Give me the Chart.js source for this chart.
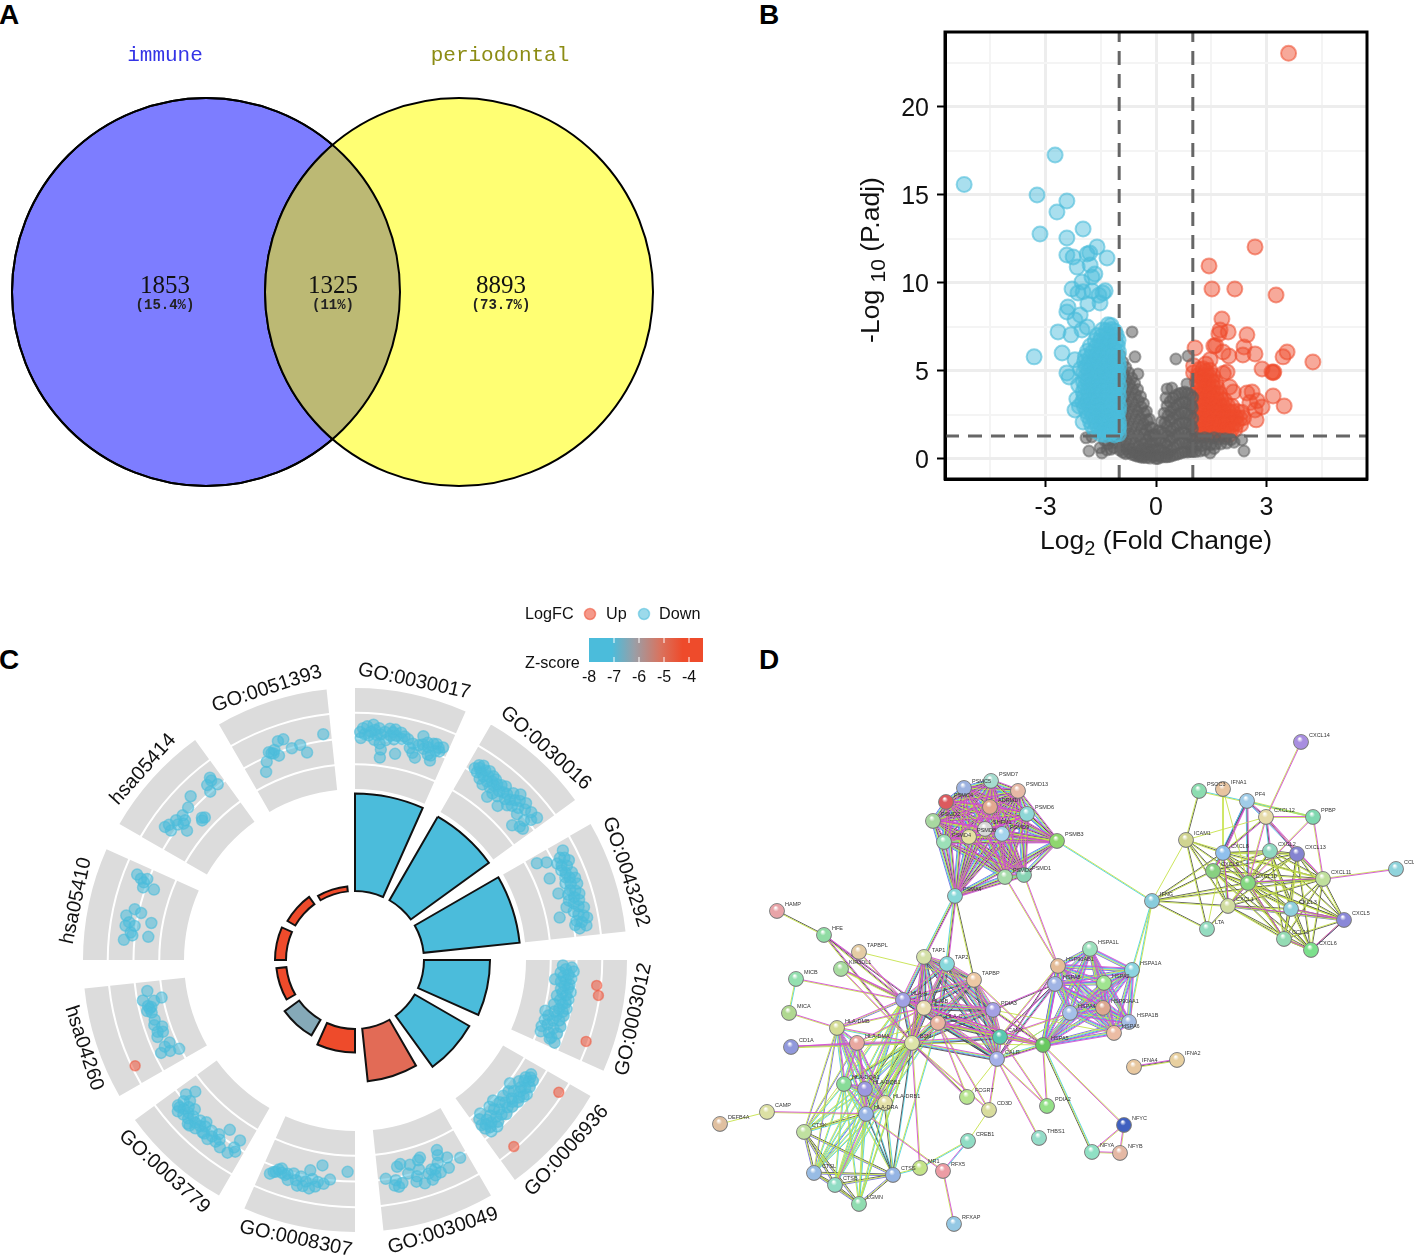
<!DOCTYPE html>
<html>
<head>
<meta charset="utf-8">
<title>Immune and periodontal genes</title>
<script src="https://cdn.jsdelivr.net/npm/chart.js@4"></script>
<style>
  body { margin: 0; background: #fff; }
  #page { position: relative; width: 1414px; height: 1256px; overflow: hidden; }
  canvas { position: absolute; }
  .panel { position: absolute; font: bold 28px "Liberation Sans", Arial, sans-serif; color: #000; }
</style>
</head>
<body>
<div id="page">
  <div class="panel" style="left:-1px;top:-1px">A</div>
  <div class="panel" style="left:759px;top:-1px">B</div>
  <div class="panel" style="left:-1px;top:644px">C</div>
  <div class="panel" style="left:759px;top:644px">D</div>
</div>
<script>
// ---- Panel A: venn ----
const vennNames = ['immune', 'periodontal'];
const vennCounts = ['1853', '1325', '8893'];
const vennShares = ['(15.4%)', '(11%)', '(73.7%)'];

// ---- Panel B: volcano, [log2FC, -log10 p.adj] ----
const volcanoXTicks = [-4.5, -3, -1.5, 0, 1.5, 3, 4.5];
const volcanoXLabels = [-3, 0, 3];
const volcanoYTicks = [0, 2.5, 5, 7.5, 10, 12.5, 15, 17.5, 20, 22.5];
const volcanoYLabels = [0, 5, 10, 15, 20];
const foldCutoff = 1;
const pCutoff = 1.3;

const downGenes = [
  [-5.21,15.6],[-2.74,17.27],[-3.23,15],[-2.42,14.66],[-2.69,14.03],[-1.98,13.07],[-3.15,12.78],[-2.42,12.56],
  [-1.6,12.05],[-2.42,11.59],[-2.25,11.48],[-1.87,11.65],[-1.8,11.7],[-1.33,11.42],[-2.14,10.9],[-1.79,11.02],
  [-1.66,10.51],[-1.74,10.34],[-2.01,10.06],[-2.28,9.66],[-2.12,9.43],[-1.98,9.5],[-1.74,9.55],[-1.38,9.55],
  [-1.44,9.43],[-1.55,9.3],[-1.85,8.81],[-1.52,8.86],[-2.39,8.64],[-2.42,8.35],[-2.06,8.18],[-2.2,7.9],
  [-2.66,7.22],[-2.31,7.05],[-2.01,7.33],[-1.87,7.5],[-3.31,5.8],[-2.55,6.02],[-2.2,5.63],[-2.42,4.89],
  [-2.36,4.66],[-2.1,4.2],[-2.2,2.78],[-1.98,2.1],[-2.15,3.4],[-2.05,5.1],[-2.08,3.0],
  [-1.3,7.62],[-1.22,7.58],[-1.45,7.33],[-1.35,7.28],[-1.2,7.36],[-1.12,7.25],
  [-1.6,7.02],[-1.48,6.97],[-1.33,7.05],[-1.21,6.98],[-1.08,7.04],
  [-1.65,6.72],[-1.52,6.67],[-1.4,6.75],[-1.25,6.7],[-1.1,6.66],[-1.03,6.74],
  [-1.78,6.42],[-1.62,6.37],[-1.47,6.45],[-1.33,6.4],[-1.18,6.36],[-1.05,6.44],
  [-1.86,6.12],[-1.72,6.07],[-1.55,6.15],[-1.4,6.1],[-1.28,6.06],[-1.12,6.14],[-1.02,6.08],
  [-1.92,5.82],[-1.78,5.77],[-1.63,5.85],[-1.5,5.8],[-1.35,5.76],[-1.2,5.84],[-1.06,5.79],
  [-1.94,5.52],[-1.81,5.47],[-1.67,5.55],[-1.53,5.5],[-1.4,5.46],[-1.27,5.54],[-1.14,5.49],[-1.03,5.52],
  [-1.9,5.22],[-1.76,5.27],[-1.62,5.18],[-1.48,5.25],[-1.34,5.2],[-1.21,5.28],[-1.09,5.19],[-1.01,5.25],
  [-1.96,4.94],[-1.83,4.99],[-1.69,4.9],[-1.55,4.97],[-1.42,4.92],[-1.29,5],[-1.15,4.91],[-1.04,4.97],
  [-1.92,4.66],[-1.78,4.71],[-1.64,4.62],[-1.5,4.69],[-1.37,4.64],[-1.24,4.72],[-1.11,4.63],[-1.02,4.69],
  [-1.97,4.38],[-1.85,4.43],[-1.7,4.34],[-1.56,4.41],[-1.43,4.36],[-1.3,4.44],[-1.16,4.35],[-1.05,4.41],
  [-1.93,4.1],[-1.8,4.15],[-1.66,4.06],[-1.52,4.13],[-1.38,4.08],[-1.25,4.16],[-1.12,4.07],[-1.01,4.13],
  [-1.98,3.82],[-1.84,3.87],[-1.71,3.78],[-1.57,3.85],[-1.44,3.8],[-1.31,3.88],[-1.17,3.79],[-1.04,3.85],
  [-1.95,3.54],[-1.81,3.59],[-1.67,3.5],[-1.53,3.57],[-1.39,3.52],[-1.26,3.6],[-1.13,3.51],[-1.02,3.57],
  [-1.99,3.26],[-1.86,3.31],[-1.72,3.22],[-1.58,3.29],[-1.45,3.24],[-1.32,3.32],[-1.18,3.23],[-1.05,3.29],
  [-1.94,2.98],[-1.8,3.03],[-1.66,2.94],[-1.52,3.01],[-1.39,2.96],[-1.26,3.04],[-1.12,2.95],[-1.01,3.01],
  [-1.88,2.7],[-1.75,2.75],[-1.61,2.66],[-1.48,2.73],[-1.34,2.68],[-1.21,2.76],[-1.08,2.67],[-1.02,2.73],
  [-1.84,2.42],[-1.71,2.47],[-1.58,2.38],[-1.44,2.45],[-1.31,2.4],[-1.18,2.48],[-1.05,2.39],
  [-1.78,2.14],[-1.65,2.19],[-1.52,2.1],[-1.39,2.17],[-1.26,2.12],[-1.13,2.2],[-1.02,2.11],
  [-1.74,1.88],[-1.6,1.93],[-1.47,1.84],[-1.34,1.91],[-1.21,1.86],[-1.09,1.94],[-1.01,1.85],
  [-1.66,1.62],[-1.53,1.67],[-1.4,1.58],[-1.27,1.65],[-1.15,1.6],[-1.03,1.68],
  [-1.5,1.42],[-1.38,1.38],[-1.25,1.44],[-1.12,1.36],[-1.02,1.42]
];

const upGenes = [
  [3.6,23.05],[2.69,12.05],[1.44,10.97],[1.52,9.66],[2.14,9.66],[3.26,9.32],[1.79,7.95],[1.74,7.33],
  [1.96,7.22],[1.71,7.1],[2.47,7.05],[2.39,6.36],[1.06,6.31],[1.57,6.42],[1.62,6.45],[1.82,6.08],[1.98,5.85],
  [2.36,5.91],[2.69,5.97],[3.56,6.08],[3.45,5.8],[4.26,5.51],[1.47,5.63],[1.35,5.4],[2.88,5.11],[3.15,4.94],
  [3.2,4.94],[3.18,4.9],[1.93,4.94],[1.83,4.85],[1.02,5.3],[1.02,4.9],[2,4.09],[2.1,3.8],[2.47,3.75],[2.61,3.8],
  [3.18,3.58],[3.48,3.01],[2.88,2.95],[2.69,2.78],[2.72,2.22],[2.55,3.2],[2.75,3.3],
  [1.18,5.08],[1.28,5.12],[1.36,4.98],[1.46,5.04],
  [1.14,4.72],[1.24,4.66],[1.34,4.75],[1.44,4.69],[1.54,4.74],
  [1.12,4.38],[1.21,4.32],[1.31,4.41],[1.41,4.35],[1.52,4.42],[1.62,4.36],
  [1.15,4.04],[1.25,3.98],[1.35,4.07],[1.45,4.01],[1.55,4.08],[1.66,4.02],
  [1.13,3.7],[1.23,3.64],[1.33,3.73],[1.43,3.67],[1.53,3.74],[1.63,3.68],[1.73,3.72],
  [1.16,3.36],[1.26,3.3],[1.36,3.39],[1.46,3.33],[1.56,3.4],[1.66,3.34],[1.76,3.38],[1.86,3.32],
  [1.12,3.02],[1.22,2.96],[1.32,3.05],[1.42,2.99],[1.52,3.06],[1.62,3],[1.72,3.04],[1.82,2.98],[1.94,3.03],[2.06,3],
  [1.15,2.68],[1.25,2.62],[1.35,2.71],[1.45,2.65],[1.55,2.72],[1.65,2.66],[1.75,2.7],[1.85,2.64],[1.96,2.69],[2.08,2.66],[2.2,2.7],[2.33,2.65],
  [1.13,2.34],[1.23,2.28],[1.33,2.37],[1.43,2.31],[1.53,2.38],[1.63,2.32],[1.73,2.36],[1.83,2.3],[1.94,2.35],[2.05,2.32],[2.16,2.36],[2.28,2.3],[2.38,2.34],
  [1.16,2],[1.26,1.94],[1.36,2.03],[1.46,1.97],[1.56,2.04],[1.66,1.98],[1.76,2.02],[1.86,1.96],[1.97,2.01],[2.08,1.98],[2.18,2.02],[2.3,1.96],
  [1.12,1.66],[1.22,1.6],[1.32,1.69],[1.42,1.63],[1.52,1.7],[1.62,1.64],[1.72,1.68],[1.82,1.62],[1.93,1.67],[2.04,1.64],[2.14,1.68],
  [1.15,1.4],[1.26,1.36],[1.37,1.42],[1.48,1.37],[1.58,1.43],[1.7,1.38],[1.85,1.4],[1.98,1.37]
];

const stableGenes = [
  [-0.65,7.22],[-0.57,5.8],[0.54,5.68],[-0.49,4.83],[0.3,3.98],[0.43,4.03],[0.27,3.47],[-1.9,1.2],[-1.74,1.25],
  [-1.82,0.45],[-1.52,0.63],[-1.47,0.34],[-1.33,0.51],[0.87,5.85],[0.84,4.26],[2.33,1.08],[2.39,0.45],[1.47,0.34],
  [-1.4,1.05],[-1.3,0.85],[-1.2,1.1],[-1.15,0.65],[-1.08,0.9],[-1.22,0.55],
  [-0.98,5.9],[-0.96,5.2],[-0.98,4.5],[-0.96,3.8],[-0.98,3.1],[-0.96,2.4],[-0.98,1.7],[-0.96,1],[-0.98,0.5],
  [-0.9,5.5],[-0.88,4.85],[-0.9,4.2],[-0.88,3.5],[-0.9,2.8],[-0.88,2.1],[-0.9,1.4],[-0.88,0.75],[-0.9,0.38],
  [-0.82,5.2],[-0.8,4.5],[-0.82,3.85],[-0.8,3.15],[-0.82,2.45],[-0.8,1.75],[-0.82,1.05],[-0.8,0.55],[-0.82,0.3],
  [-0.74,4.9],[-0.72,4.25],[-0.74,3.55],[-0.72,2.85],[-0.74,2.15],[-0.72,1.45],[-0.74,0.8],[-0.72,0.35],
  [-0.66,4.6],[-0.64,3.95],[-0.66,3.25],[-0.64,2.55],[-0.66,1.85],[-0.64,1.15],[-0.66,0.55],[-0.64,0.25],
  [-0.58,4.3],[-0.56,3.65],[-0.58,2.95],[-0.56,2.25],[-0.58,1.55],[-0.56,0.9],[-0.58,0.4],[-0.56,0.18],
  [-0.5,3.95],[-0.48,3.3],[-0.5,2.65],[-0.48,1.95],[-0.5,1.3],[-0.48,0.7],[-0.5,0.3],[-0.48,0.14],
  [-0.42,3.55],[-0.4,2.95],[-0.42,2.3],[-0.4,1.65],[-0.42,1.05],[-0.4,0.55],[-0.42,0.2],[-0.4,0.1],
  [-0.34,3.15],[-0.32,2.6],[-0.34,2],[-0.32,1.4],[-0.34,0.85],[-0.32,0.4],[-0.34,0.1],
  [-0.26,2.7],[-0.24,2.2],[-0.26,1.65],[-0.24,1.1],[-0.26,0.6],[-0.24,0.25],[-0.26,0.08],
  [-0.18,2.25],[-0.16,1.8],[-0.18,1.3],[-0.16,0.8],[-0.18,0.4],[-0.16,0.05],
  [-0.1,1.75],[-0.08,1.35],[-0.1,0.9],[-0.08,0.5],[-0.1,0.15],[-0.03,1.4],[-0.01,1],[-0.03,0.55],[-0.01,0.2],[0,0.02],
  [0.06,1.6],[0.08,1.1],[0.06,0.6],[0.08,0.2],[0.05,0.03],
  [0.14,2.1],[0.16,1.55],[0.14,1],[0.16,0.5],[0.14,0.1],
  [0.22,2.6],[0.24,2.05],[0.22,1.45],[0.24,0.9],[0.22,0.4],[0.24,0.12],
  [0.3,3],[0.32,2.45],[0.3,1.85],[0.32,1.3],[0.3,0.75],[0.32,0.3],[0.3,0.12],
  [0.38,3.25],[0.4,2.7],[0.38,2.15],[0.4,1.6],[0.38,1.05],[0.4,0.5],[0.38,0.14],
  [0.46,3.45],[0.48,2.9],[0.46,2.3],[0.48,1.75],[0.46,1.2],[0.48,0.65],[0.46,0.2],
  [0.54,3.6],[0.56,3.05],[0.54,2.5],[0.56,1.9],[0.54,1.35],[0.56,0.8],[0.54,0.25],
  [0.62,3.7],[0.64,3.15],[0.62,2.55],[0.64,2],[0.62,1.45],[0.64,0.9],[0.62,0.3],
  [0.7,3.75],[0.72,3.2],[0.7,2.65],[0.72,2.05],[0.7,1.5],[0.72,0.95],[0.7,0.35],
  [0.78,3.8],[0.8,3.2],[0.78,2.6],[0.8,2.05],[0.78,1.45],[0.8,0.9],[0.78,0.4],
  [0.86,3.75],[0.88,3.15],[0.86,2.55],[0.88,2],[0.86,1.4],[0.88,0.85],[0.86,0.4],
  [0.94,3.65],[0.96,3.05],[0.94,2.5],[0.96,1.9],[0.94,1.3],[0.96,0.8],[0.94,0.42],
  [1,3.5],[0.99,2.9],[1,2.3],[0.99,1.7],[1,1.15],[0.99,0.65],[1,0.42],
  [1.08,1.2],[1.12,0.8],[1.08,0.42],[1.2,1.15],[1.24,0.75],[1.2,0.45],[1.32,1.2],[1.36,0.85],[1.32,0.5],
  [1.44,1.15],[1.48,0.8],[1.58,1.2],[1.62,0.85],[1.58,0.6],[1.72,1.15],[1.76,0.85],[1.88,1.15],[1.92,0.9],[2.04,1.1],[2.12,0.95]
];

// ---- Panel C: gene ontology circle ----
const termNames = ['GO:0030017','GO:0030016','GO:0043292','GO:0003012','GO:0006936','GO:0030049',
  'GO:0008307','GO:0003779','hsa04260','hsa05410','hsa05414','GO:0051393'];
const termBarHeights = [97.5, 96.5, 96.5, 66, 63, 53, 23.5, 18, 10, 11, 9, 5];
const termBarColors = ['#4bbcdb','#4bbcdb','#4bbcdb','#4bbcdb','#4bbcdb','#e26b56',
  '#ee4b2b','#85a9b8','#ee4b2b','#ee4b2b','#ee4b2b','#ee4b2b'];
const zScoreTicks = [-8, -7, -6, -5, -4];
const zScoreRange = [-8, -3.44];

// one list per term, [degrees into the term's arc, logFC]
const termDown = [
  [[1.3,.7],[1.5,.1],[2,1.1],[2.5,.5],[3,1.3],[3.5,.4],[4,.8],[4.5,1.5],[5,0],[5,1],[5.5,.5],[6,1.2],[6.5,-.3],[6.5,.6],[7,-1.7],[7,-.9],[7.5,.9],[8,.1],[8.6,1.3],[9,.6],[9.5,1],[10,.3],[10,1.3],[10.5,.7],[11,-1.1],[11.5,1.1],[12,.5],[12.5,.8],[13.5,.6],[14.5,-.2],[15,.3],[15.5,-.6],[16.5,-1],[16.5,.3],[17,1.3],[17.5,.5],[18,.1],[18.5,.8],[19,.4],[19.5,-.3],[20,.9],[20.6,-.8],[20.7,1],[21,.3],[21.5,.7],[22,.4],[22.5,.9],[20.3,-.3]],
  [[2,.5],[2.5,1],[3,.3],[3,.8],[3.5,1.2],[4,.5],[4.5,-.1],[4.5,.9],[5,.3],[5.5,1.1],[6,.6],[6,-.4],[6.5,.1],[7,.9],[7.5,.4],[8,-.2],[8,.8],[8.5,.2],[9,-1.1],[9,.5],[9.5,-.5],[10,.7],[10.5,.1],[11,-.4],[11,.9],[11.5,.3],[12.8,-1.1],[12.5,.4],[13,-.1],[13.5,.9],[14,.2],[14.5,-.4],[15,1.3],[15,.5],[15.5,-.1],[16,.8],[17,.2],[17.5,1.1],[18,-.3],[18.5,.6],[19.4,-1.4],[20,.9],[20.5,-.2],[21,-.9],[22,-.8],[22,1],[21.5,.4]],
  [[2,-1.5],[2.2,1.4],[3,-.6],[3.5,.8],[4,1.2],[4.5,.3],[5,1.5],[5.5,.6],[6,1.1],[6.5,.4],[7.3,-1],[7.5,.7],[8,1.3],[8.5,.5],[9,.9],[9.5,1.4],[10,.3],[10.5,.8],[11,1.4],[11.9,-.7],[12,.5],[12.5,1],[13,.2],[13.5,1.3],[14,.7],[14.5,.1],[15,1.1],[15.5,.5],[16,-.3],[16.5,.9],[17,1.4],[17.5,.3],[18.3,-1.2],[18.5,.7],[19,1.2],[19.6,1.5],[20,.4],[20.5,.9],[21,.2],[21.5,1.3],[22,.6]],
  [[1.5,-1.3],[2,-.4],[2.5,-1],[3,-.2],[3.5,-1.5],[4,-.7],[4.5,-1.2],[5,-.4],[5.5,-2],[5.5,-.9],[6,-1.4],[6.5,-.5],[7,-1],[7.5,-.6],[8,-1.3],[8.5,-.3],[9,-1.1],[9.5,-.7],[10,-1.6],[10.5,-.4],[11,-1.2],[11.5,-.6],[12,-.9],[12.5,-1.7],[13,-.4],[13.5,-1.1],[14,-.7],[14.9,-2.4],[14.5,-1.5],[15,-.5],[15.5,-1.2],[16,-2],[16.5,-.8],[17,-1.4],[17.5,-2.2],[18,-.5],[18.5,-1.8],[19,-1.1],[19.5,-2.3],[20,-.6],[20.5,-1.4],[21,-2.2],[21.5,-1],[22,-1.1],[22.5,-.5]],
  [[3,-1.1],[3.8,-1],[4.2,-.6],[4.5,-1.4],[5,-.9],[5.5,-1.3],[6,-.5],[6.5,-1.7],[7,-.8],[7.5,-1.2],[8,-.3],[8.5,-2.3],[8.5,-1],[9,-.4],[9.5,-1.5],[10,-.7],[10.5,-1.9],[11,-.5],[11.5,-1.2],[12,-.9],[12.5,-2],[13,-.6],[13.5,-1.4],[14,-.9],[14.5,-1.8],[15.5,-2.4],[15.5,-.5],[16,-1.3],[16.5,-.8],[17,-1.7],[17.5,-2.2],[18,-1],[18.5,-.5],[19,-1.5],[19.5,-.2],[20,-.9],[20.8,-2.3],[20.5,-1.4],[21,-.6],[21.5,-1.1],[22,-1.9],[22.3,-.8],[22.5,-1.3],[21.5,-.2]],
  [[2,.3],[5,-.3],[5.7,.7],[6.7,-1.4],[7,-.9],[8,.8],[7.8,-.2],[9,.3],[9.5,.9],[10,.2],[10.5,1.2],[11,.5],[11.8,-1.3],[12.6,1.3],[12.5,-1.1],[13,-.2],[14,.4],[14.5,.9],[15,-.9],[16,-.1],[17.5,-1.2],[18,.7],[18.5,-1],[19,1],[19.5,.3],[20,.8],[22,0]],
  [[2,-.9],[9,-1.3],[12,-.6],[11.4,1.2],[8,.5],[6.5,0],[9.5,.4],[10,.9],[11,.2],[12.5,.6],[13,1.1],[14.4,1.2],[14,.2],[15,.7],[16,.1],[17,.9],[17.5,.3],[18,.5],[19.3,0],[19,.4],[20,.2],[20.5,.5],[21.7,.9],[21,.6]],
  [[2,.5],[2.5,-.7],[2.8,.2],[3.5,1],[5.8,1],[6.4,-1],[7,.4],[7.5,.8],[8,0],[9,.6],[9.5,1.1],[10,.2],[11,.9],[11.6,.9],[12,.3],[12.5,-.1],[13,.6],[13.5,1.1],[14,.2],[14.5,.7],[15,1.3],[15.6,1.3],[16,.4],[16.5,.9],[17,-.2],[17.5,.5],[18,1],[18.5,.1],[19,.6],[19.5,-.4],[19.5,1.2],[20,.8],[20.5,.1],[20.6,.8],[20.5,-1.4],[21.5,-.5]],
  [[21.5,-1.1],[19,-2.4],[19.2,-.5],[18.5,-1.6],[17.5,-.9],[17,-1.2],[16.6,-1],[16.2,-.7],[15.5,-1.1],[13.4,-1.2],[12,-1],[11,-1.7],[10,-1.1],[8.7,-.9],[9.5,-1.6],[5.5,-1.2],[4.4,-.6],[3.8,-1.5],[3.2,-2.4],[6,-1.8]],
  [[21.4,1.3],[21.3,.2],[20.8,.8],[19.3,-.8],[18.9,.3],[20.2,.4],[13,.5],[12.4,-.2],[11,1.2],[10.3,-1.4],[8.8,.2],[8.5,1.1],[9.5,.8],[6.4,-1.3],[5,1.1],[6.3,.3],[7,.5]],
  [[21.5,1.2],[22,.2],[19.8,.8],[19.3,.1],[14.9,1.1],[12.4,.5],[10,.4],[13.5,-1.4],[12.4,-1.4],[12.9,-1.2],[9.4,-.1],[7.6,-.9],[5,1.1],[5.1,.4],[7.4,.2],[6,.9],[8,.6],[8.5,-.2],[21.3,.9]],
  [[22,.7],[15.7,.1],[13.4,0],[17,-.8],[12,1.1],[10.6,1.1],[7.5,.4],[9.6,-.3],[8,.2],[8.5,.1],[9,.4],[6,-.4],[4.7,-1.3]]
];
const termUp = [[],[],[],[[6,2.2],[8.3,2.5],[19.4,2.4]],[[3,2.2],[19.6,2.4]],[],[],[],[[4.3,2.3]],[],[],[]];

// ---- Panel D: protein network ----
const nodeSpots = {
  PSMD7:[991,781],PSMC5:[964,788],PSMD13:[1018,791],PSMC4:[946,802],ADRM1:[990,807],PSMD6:[1027,814],PSMD2:[933,821],
  PSMB3:[1057,841],PSMD4:[944,842],PSMD8:[969,837],SHFM1:[985,829],PSMD9:[1002,834],PSMD3:[1005,877],PSMD1:[1024,875],PSMA4:[955,896],
  CXCL14:[1301,742],PF4:[1247,801],PSOC3:[1199,791],IFNA1:[1223,789],CXCL12:[1266,817],PPBP:[1313,817],ICAM1:[1186,840],
  CXCL8:[1223,853],CXCL2:[1270,851],CXCL13:[1297,854],CXCL9:[1213,871],CXCL10:[1248,883],CXCL11:[1323,879],CCL1:[1396,869],
  IFNG:[1152,901],CXCL1:[1228,906],CXCL3:[1291,909],CXCL5:[1344,920],LTA:[1207,929],CCL13:[1284,939],CXCL6:[1311,950],
  HAMP:[777,911],HFE:[824,935],TAPBPL:[859,952],KIR3DL1:[841,969],MICB:[796,979],MICA:[789,1013],CD1A:[791,1047],
  'HLA-DMB':[837,1028],'HLA-DMA':[857,1043],TAP1:[924,957],TAP2:[947,964],TAPBP:[974,980],'HLA-A':[903,1000],'HLA-B':[924,1008],
  'HLA-C':[938,1023],B2M:[912,1043],PDIA3:[993,1010],CANX:[1000,1037],CALR:[997,1059],
  HSPA1L:[1090,949],HSP90AB1:[1058,966],HSPA1A:[1132,970],HSPA8:[1055,984],HSPA2:[1104,983],HSP90AA1:[1103,1008],HSPA1B:[1129,1022],
  HSPA4:[1070,1013],HSPA6:[1114,1033],HSPA5:[1043,1045],PDIA2:[1047,1106],THBS1:[1039,1138],NFYC:[1124,1125],NFYA:[1092,1152],
  NFYB:[1120,1153],IFNA4:[1134,1067],IFNA2:[1177,1060],
  DEFB4A:[720,1124],CAMP:[767,1112],'HLA-DQA1':[844,1084],'HLA-DQB1':[865,1089],'HLA-DRB1':[885,1103],'HLA-DRA':[866,1114],
  CTSK:[804,1132],CTSL:[814,1173],CTSB:[835,1185],LGMN:[859,1204],CTSS:[893,1175],MR1:[920,1168],RFX5:[943,1171],CREB1:[968,1141],
  RFXAP:[954,1224],FCGRT:[967,1097],CD3D:[989,1110]
};
const nodeTints = {
  PSMD7:'#a6dccf',PSMC5:'#9db2e0',PSMD13:'#e6b9a6',PSMC4:'#dc5a5e',ADRM1:'#e2a88f',PSMD6:'#8ed6d6',PSMD2:'#a8d8a0',
  PSMB3:'#8fd66e',PSMD4:'#9ce0b8',PSMD8:'#e4e0a0',SHFM1:'#d8d8d8',PSMD9:'#a4d4ec',PSMD3:'#a8dcaa',PSMD1:'#88d4b4',PSMA4:'#88d8d8',
  CXCL14:'#a88ee0',PF4:'#a0cce8',PSOC3:'#8cdcb0',IFNA1:'#e8c4a0',CXCL12:'#e6daa8',PPBP:'#80d8b0',ICAM1:'#d0d490',
  CXCL8:'#90c0ec',CXCL2:'#90d8c0',CXCL13:'#8484d0',CXCL9:'#88d080',CXCL10:'#84d880',CXCL11:'#c0e09c',CCL1:'#90d4dc',
  IFNG:'#88ccdc',CXCL1:'#d0dca0',CXCL3:'#90d0dc',CXCL5:'#8a88d8',LTA:'#94dcc0',CCL13:'#94dcb4',CXCL6:'#7ce08c',
  HAMP:'#e8a4a8',HFE:'#90dca4',TAPBPL:'#e4cca4',KIR3DL1:'#a8dca0',MICB:'#94e0b0',MICA:'#b0d890',CD1A:'#9098dc',
  'HLA-DMB':'#d4dc94','HLA-DMA':'#e8a8a0',TAP1:'#d4e0a8',TAP2:'#88d8dc',TAPBP:'#ecc8a4','HLA-A':'#a0a0e4','HLA-B':'#e8dcb0',
  'HLA-C':'#e8b4a0',B2M:'#dce4a8',PDIA3:'#a4a0e4',CANX:'#58c8b0',CALR:'#a4b0e8',
  HSPA1L:'#9ce0bc',HSP90AB1:'#e4bc98',HSPA1A:'#8cd4e0',HSPA8:'#a0b4e4',HSPA2:'#a0e490',HSP90AA1:'#dca890',HSPA1B:'#a4bce4',
  HSPA4:'#a4c0e8',HSPA6:'#ecbca4',HSPA5:'#68c860',PDIA2:'#94e088',THBS1:'#94dcc8',NFYC:'#4060c0',NFYA:'#90e0c4',
  NFYB:'#e4b8a4',IFNA4:'#e8c8a0',IFNA2:'#e8d0a0',
  DEFB4A:'#e0c0a0',CAMP:'#dce0a4','HLA-DQA1':'#88dc98','HLA-DQB1':'#9c98e0','HLA-DRB1':'#e4e0a8','HLA-DRA':'#98b4e4',
  CTSK:'#c0e0a0',CTSL:'#98bce4',CTSB:'#90dcc4',LGMN:'#90dcb0',CTSS:'#94b4e4',MR1:'#c4e488',RFX5:'#ec9ca4',CREB1:'#90dcc4',
  RFXAP:'#94c8e4',FCGRT:'#b8e490',CD3D:'#d8dc9c'
};
// groups where every protein links to every other, with the evidence colours of those links
const networkGroups = [
  [['PSMD7','PSMC5','PSMD13','PSMC4','ADRM1','PSMD6','PSMD2','PSMB3','PSMD4','PSMD8','SHFM1','PSMD9','PSMD3','PSMD1','PSMA4'], 'mkycb'],
  [['HLA-A','HLA-B','HLA-C','B2M','TAP1','TAP2','TAPBP','PDIA3','CANX','CALR'], 'mycbk'],
  [['HSPA1L','HSP90AB1','HSPA1A','HSPA8','HSPA2','HSP90AA1','HSPA1B','HSPA4','HSPA6','HSPA5'], 'mbcyb'],
  [['HLA-DMB','HLA-DMA','HLA-DQA1','HLA-DQB1','HLA-DRB1','HLA-DRA'], 'mbyc'],
  [['CTSK','CTSL','CTSB','CTSS','LGMN'], 'kyb'],
  [['CXCL8','CXCL2','CXCL9','CXCL10','CXCL11','CXCL1','CXCL3','CXCL5','CCL13','CXCL6','CXCL13'], 'ky'],
  [['NFYA','NFYB','NFYC'], 'my']
];
const networkEdges = [
  ['PSMB3','IFNG','yc'],['IFNG','HSPA1A','yc'],['IFNG','HSPA1B','yc'],['PSMA4','TAP1','mkyc'],['PSMA4','TAP2','mkyc'],['PSMA4','TAPBP','ky'],
  ['PSMD3','HSP90AB1','my'],['PSMD1','HSP90AB1','my'],['CXCL14','CXCL12','my'],['CCL1','CXCL11','my'],['PF4','CXCL8','mkcb'],['PF4','CXCL9','mkc'],
  ['PF4','CXCL10','mkc'],['PF4','CXCL12','mkc'],['PF4','CXCL11','mc'],['CXCL12','CXCL8','mky'],['CXCL12','CXCL10','my'],['CXCL12','CXCL11','my'],
  ['CXCL12','CXCL13','mk'],['CXCL12','PPBP','my'],['CXCL12','CXCL2','mkc'],['PPBP','CXCL11','my'],['PPBP','CXCL10','my'],['PPBP','PF4','cy'],['PSOC3','PPBP','cy'],
  ['PSOC3','ICAM1','ky'],['IFNA1','CXCL8','y'],['IFNA1','CXCL10','y'],['ICAM1','CXCL8','ky'],['ICAM1','CXCL9','ky'],['ICAM1','CXCL10','ky'],['ICAM1','CXCL1','ky'],
  ['ICAM1','CXCL11','y'],['ICAM1','CXCL12','y'],['ICAM1','LTA','ky'],['ICAM1','IFNG','y'],['IFNG','CXCL9','ky'],['IFNG','CXCL10','ky'],['IFNG','CXCL11','ky'],
  ['IFNG','CXCL1','ky'],['IFNG','CXCL8','ky'],['IFNG','LTA','ky'],['LTA','CXCL1','ky'],['LTA','CXCL8','y'],
  ['CXCL8','CXCL9','mkc'],['CXCL8','CXCL10','mkc'],['CXCL8','CXCL1','mkc'],['CXCL10','CXCL11','mcb'],['CXCL10','CXCL1','mc'],['CXCL10','CCL13','mk'],['CXCL1','CXCL5','mcb'],['CXCL3','CXCL5','mb'],['CXCL6','CXCL5','mb'],['CCL13','CXCL6','mk'],
  ['HAMP','HFE','ky'],['HFE','HLA-A','mky'],['HFE','HLA-B','mk'],['HFE','B2M','mky'],['TAPBPL','HLA-A','my'],['TAPBPL','TAPBP','y'],['KIR3DL1','HLA-A','mky'],
  ['KIR3DL1','HLA-B','my'],['KIR3DL1','B2M','my'],['MICB','MICA','cy'],['MICB','HLA-A','my'],['MICA','HLA-DMB','my'],['CD1A','B2M','mby'],['CD1A','HLA-DMA','my'],
  ['HLA-DMB','HLA-A','myb'],['HLA-DMB','HLA-B','my'],['HLA-DMB','B2M','myc'],['HLA-DMA','HLA-B','my'],['HLA-DMA','B2M','myc'],['HLA-DMA','HLA-C','y'],
  ['HLA-DQA1','HLA-A','yc'],['HLA-DQA1','B2M','ykc'],['HLA-DQA1','HLA-C','yc'],['HLA-DQB1','HLA-A','ycm'],['HLA-DQB1','HLA-B','yk'],['HLA-DQB1','B2M','ycb'],
  ['HLA-DRB1','HLA-A','yc'],['HLA-DRB1','B2M','ycm'],['HLA-DRB1','HLA-C','yc'],['HLA-DRB1','HLA-B','ycb'],['HLA-DRA','HLA-A','ycb'],['HLA-DRA','HLA-B','yk'],['HLA-DRA','B2M','ycm'],['HLA-DRA','HLA-C','ykc'],
  ['CTSK','HLA-DRA','kyc'],['CTSK','HLA-DQA1','yc'],['CTSK','HLA-DRB1','y'],['CTSL','HLA-DRA','yc'],['CTSL','HLA-DQA1','yc'],['CTSL','HLA-DRB1','yc'],
  ['CTSB','HLA-DRA','ycm'],['CTSB','HLA-DQB1','yc'],['CTSB','HLA-DRB1','yc'],['LGMN','HLA-DRA','yc'],['LGMN','HLA-DQB1','yc'],['CTSS','HLA-DRA','kc'],['CTSS','HLA-DRB1','kyc'],['CTSS','HLA-DQA1','yc'],
  ['CTSK','B2M','yc'],['CTSL','B2M','ycb'],['CTSB','B2M','yc'],['CTSB','HLA-A','yc'],['LGMN','B2M','yc'],['CTSS','B2M','kc'],['CTSS','HLA-C','yc'],['CTSK','HLA-A','y'],['CTSL','HLA-A','yc'],['CTSB','HLA-B','yc'],
  ['LGMN','HLA-B','y'],['CTSS','HLA-DQB1','kc'],['CTSL','HLA-DQB1','yc'],['CTSK','HLA-DQB1','yc'],['CTSB','HLA-DQA1','yc'],['LGMN','HLA-DQA1','yc'],['LGMN','HLA-DRB1','yc'],['CTSK','HLA-DMA','yb'],['CTSK','HLA-DMB','yb'],['CTSL','HLA-DMB','yb'],
  ['DEFB4A','CAMP','y'],['CAMP','HLA-DRA','my'],['MR1','CTSS','cy'],['MR1','B2M','my'],['RFX5','HLA-DRA','my'],['RFX5','CREB1','mc'],['RFX5','RFXAP','my'],['CREB1','MR1','cy'],
  ['CD3D','CREB1','y'],['FCGRT','B2M','mky'],['FCGRT','HLA-C','my'],['FCGRT','CALR','y'],['CD3D','CALR','my'],['CD3D','B2M','my'],['CD3D','HLA-C','my'],
  ['PDIA2','CALR','my'],['PDIA2','CANX','my'],['PDIA2','HSPA5','my'],['THBS1','CALR','my'],['NFYC','HSPA5','my'],['NFYA','HSPA5','kyc'],['IFNA4','IFNA2','mky'],
  ['HSPA5','CALR','mkyc'],['HSPA5','CANX','mky'],['HSPA5','PDIA3','mky'],['HSPA5','B2M','y'],['HSPA5','HLA-C','yc'],['HSPA5','TAPBP','my'],['HSPA8','CALR','mkc'],['HSPA8','CANX','mk'],
  ['HSP90AB1','CALR','mk'],['HSP90AB1','CANX','my'],['HSPA4','CALR','y'],['PDIA3','HSPA6','y'],['CALR','HSPA4','c'],['TAP1','B2M','mk'],['TAP2','HLA-DRA','c'],
  ['HLA-A','HSPA5','my'],['HLA-B','HSPA5','myc'],['HLA-C','HSPA5','mky'],['CANX','HSPA4','my'],['PDIA3','HSPA8','mk']
];
const evidenceColors = { m:'#d24fd2', y:'#c6e24a', k:'#4d4d4d', c:'#45cfe6', b:'#6c64e2' };

// ---- helpers ----
Chart.defaults.animation = false;
Chart.defaults.responsive = false;
Chart.defaults.layout.autoPadding = false;
Chart.defaults.font.family = '"Liberation Sans", Arial, sans-serif';
Chart.defaults.plugins.legend.display = false;
Chart.defaults.plugins.tooltip.enabled = false;

const page = document.getElementById('page');
function addCanvas(left, top, width, height) {
  const c = document.createElement('canvas');
  c.width = width;
  c.height = height;
  c.style.left = left + 'px';
  c.style.top = top + 'px';
  page.appendChild(c);
  return c;
}

// writes a list of labels on the canvas, positions in the chart's data units
function textPlugin(labels) {
  return {
    id: 'labels',
    afterDraw(chart) {
      const ctx = chart.ctx;
      labels.forEach(l => {
        ctx.save();
        ctx.translate(chart.scales.x.getPixelForValue(l.x), chart.scales.y.getPixelForValue(l.y));
        if (l.rotate) ctx.rotate(l.rotate * Math.PI / 180);
        ctx.font = l.font;
        ctx.fillStyle = l.color || '#000';
        ctx.textAlign = l.align || 'center';
        ctx.textBaseline = 'middle';
        ctx.fillText(l.text, 0, 0);
        ctx.restore();
      });
    }
  };
}
const hiddenAxis = (min, max, reverse) => ({ type: 'linear', display: false, min, max, reverse: !!reverse });
const toXY = p => ({ x: p[0], y: p[1] });

// ---- A ----
const vennBlue = '#7d7dff', vennYellow = '#ffff73', vennOverlap = '#bcb974';
const vennData = [{ x: 206, y: 292, r: 194 }, { x: 459, y: 292, r: 194 }];
const vennLabels = [
  { text: vennNames[0], x: 165, y: 55, font: '21px "Liberation Mono"', color: '#3434e6' },
  { text: vennNames[1], x: 500, y: 55, font: '21px "Liberation Mono"', color: '#8c8c14' }
];
[165, 333, 501].forEach((x, i) => {
  vennLabels.push({ text: vennCounts[i], x, y: 286, font: '25px "Liberation Serif"', color: '#111' });
  vennLabels.push({ text: vennShares[i], x, y: 305, font: 'bold 14px "Liberation Mono"', color: '#222' });
});
new Chart(addCanvas(0, 0, 700, 520), {
  type: 'bubble',
  data: { datasets: [
    { data: [vennData[1]], backgroundColor: vennOverlap, borderColor: '#000', borderWidth: 2, order: 0 },
    { data: [vennData[1]], backgroundColor: vennYellow, borderColor: '#000', borderWidth: 2, order: 1 },
    { data: [vennData[0]], backgroundColor: vennBlue, borderColor: '#000', borderWidth: 2, order: 2 }
  ] },
  options: { scales: { x: hiddenAxis(0, 700), y: hiddenAxis(0, 520, true) }, clip: false },
  plugins: [textPlugin(vennLabels), {
    id: 'lens',
    // the overlap is the yellow circle again, cut to the blue one
    beforeDatasetDraw(chart, args) {
      if (args.index !== 0) return;
      const blue = chart.getDatasetMeta(2).data[0];
      chart.ctx.save();
      chart.ctx.beginPath();
      chart.ctx.arc(blue.x, blue.y, vennData[0].r, 0, Math.PI * 2);
      chart.ctx.clip();
    },
    afterDatasetDraw(chart, args) {
      if (args.index !== 0) return;
      chart.ctx.restore();
      const blue = chart.getDatasetMeta(2).data[0];
      chart.ctx.beginPath();
      chart.ctx.arc(blue.x, blue.y, vennData[0].r, 0, Math.PI * 2);
      chart.ctx.lineWidth = 2;
      chart.ctx.strokeStyle = '#000';
      chart.ctx.stroke();
    }
  }]
});

// ---- B ----
const axisFont = { size: 25 };
const cutoffLine = (data) => ({ data, showLine: true, pointRadius: 0, borderColor: '#666', borderWidth: 3, borderDash: [14, 9], order: 0 });
// titles have real subscripts, written piece by piece: [text, size, drop]
const xTitlePieces = [['Log', 26.5, 0], ['2', 20, 6], [' (Fold Change)', 26.5, 0]];
const yTitlePieces = [['-Log ', 26.5, 0], ['10', 21, 6], [' (P.adj)', 26.5, 0]];
function drawPieces(ctx, pieces, x, y, rotate) {
  ctx.save();
  ctx.translate(x, y);
  ctx.rotate(rotate);
  ctx.fillStyle = '#111';
  ctx.textBaseline = 'alphabetic';
  const widths = pieces.map(p => { ctx.font = p[1] + 'px "Liberation Sans"'; return ctx.measureText(p[0]).width; });
  let at = -widths.reduce((a, b) => a + b, 0) / 2;
  pieces.forEach((p, i) => {
    ctx.font = p[1] + 'px "Liberation Sans"';
    ctx.fillText(p[0], at, p[2]);
    at += widths[i];
  });
  ctx.restore();
}
new Chart(addCanvas(840, 20, 560, 560), {
  type: 'scatter',
  data: { datasets: [
    { data: upGenes.map(toXY), pointRadius: 7.5, borderWidth: 2, backgroundColor: 'rgba(238,75,43,.48)', borderColor: 'rgba(238,75,43,.55)', order: 4 },
    { data: stableGenes.map(toXY), pointRadius: 5.5, borderWidth: 2, backgroundColor: 'rgba(95,95,95,.55)', borderColor: 'rgba(95,95,95,.55)', order: 3 },
    { data: downGenes.map(toXY), pointRadius: 7.5, borderWidth: 2, backgroundColor: 'rgba(75,188,219,.48)', borderColor: 'rgba(75,188,219,.6)', order: 2 },
    cutoffLine([{ x: -foldCutoff, y: -1.14 }, { x: -foldCutoff, y: 24.26 }]),
    cutoffLine([{ x: foldCutoff, y: -1.14 }, { x: foldCutoff, y: 24.26 }]),
    cutoffLine([{ x: -5.73, y: pCutoff }, { x: 5.73, y: pCutoff }])
  ] },
  options: {
    layout: { padding: { top: 12, right: 33 } },
    scales: {
      x: {
        type: 'linear', min: -5.73, max: 5.73,
        afterBuildTicks: s => { s.ticks = volcanoXTicks.map(value => ({ value })); },
        afterFit: s => { s.height = 101; s.paddingLeft = 0; s.paddingRight = 0; },
        border: { color: '#000', width: 3 },
        grid: {
          color: c => volcanoXLabels.includes(c.tick.value) ? '#ededed' : '#f4f4f4',
          lineWidth: c => volcanoXLabels.includes(c.tick.value) ? 3 : 2,
          tickColor: c => volcanoXLabels.includes(c.tick.value) ? '#000' : 'transparent',
          tickWidth: 2, tickLength: 8
        },
        ticks: {
          autoSkip: false, maxRotation: 0, font: axisFont, color: '#111', padding: 6,
          callback: v => volcanoXLabels.includes(v) ? String(v) : ''
        }
      },
      y: {
        type: 'linear', min: -1.14, max: 24.26,
        afterBuildTicks: s => { s.ticks = volcanoYTicks.map(value => ({ value })); },
        afterFit: s => { s.width = 105; s.paddingTop = 0; s.paddingBottom = 0; },
        border: { color: '#000', width: 3 },
        grid: {
          color: c => volcanoYLabels.includes(c.tick.value) ? '#ededed' : '#f4f4f4',
          lineWidth: c => volcanoYLabels.includes(c.tick.value) ? 3 : 2,
          tickColor: c => volcanoYLabels.includes(c.tick.value) ? '#000' : 'transparent',
          tickWidth: 2, tickLength: 8
        },
        ticks: {
          autoSkip: false, font: axisFont, color: '#111', padding: 8, labelOffset: 2,
          callback: v => volcanoYLabels.includes(v) ? String(v) : ''
        }
      }
    }
  },
  plugins: [{
    id: 'frame',
    afterDatasetsDraw(chart) {
      const a = chart.chartArea;
      chart.ctx.save();
      chart.ctx.lineWidth = 3;
      chart.ctx.strokeStyle = '#000';
      chart.ctx.strokeRect(a.left, a.top, a.right - a.left, a.bottom - a.top);
      chart.ctx.restore();
    },
    afterDraw(chart) {
      const a = chart.chartArea;
      drawPieces(chart.ctx, xTitlePieces, (a.left + a.right) / 2, 529, 0);
      drawPieces(chart.ctx, yTitlePieces, 39, 240, -Math.PI / 2);
    }
  }]
});

// ---- C ----
const termSpan = 24, termPitch = 30, circleSize = 640;
const circleLeft = 35, circleTop = 640;

// grey bands, gaps between terms are see through
const bandSlices = termNames.flatMap(() => [termSpan, termPitch - termSpan]);
const bandColors = termNames.flatMap(() => ['#dcdcdc', 'rgba(0,0,0,0)']);
const bandRing = () => ({ data: bandSlices.slice(), backgroundColor: bandColors, borderWidth: 0, weight: 23.5 });
const bandGap = () => ({ data: bandSlices.slice(), backgroundColor: 'rgba(0,0,0,0)', borderWidth: 0, weight: 2 });
new Chart(addCanvas(circleLeft, circleTop, circleSize, circleSize), {
  type: 'doughnut',
  data: { datasets: [bandRing(), bandGap(), bandRing(), bandGap(), bandRing(), bandGap(), bandRing()] },
  options: { cutout: 171, layout: { padding: 48 } }
});

// inner bars, the radial scale runs in pixels from the inner hole
const innerHole = 69;
new Chart(addCanvas(circleLeft, circleTop, circleSize, circleSize), {
  type: 'polarArea',
  data: {
    labels: termNames.flatMap(t => [t, '']),
    datasets: [{
      data: termBarHeights.flatMap(h => [h, -innerHole]),
      angle: c => c.dataIndex % 2 ? termPitch - termSpan : termSpan,
      backgroundColor: termBarColors.flatMap(col => [col, 'rgba(0,0,0,0)']),
      borderColor: '#111',
      borderWidth: c => c.dataIndex % 2 ? 0 : 2,
      borderJoinStyle: 'miter'
    }]
  },
  options: {
    layout: { padding: 48 },
    scales: { r: { display: false, min: -innerHole, max: 272 - innerHole } }
  },
  plugins: [{
    id: 'hole',
    afterDatasetsUpdate(chart) {
      chart.getDatasetMeta(0).data.forEach((arc, i) => { if (i % 2 === 0) arc.innerRadius = innerHole; });
    }
  }]
});

// points on the rings
const ringZero = 221, ringUnit = 10;
function termPoint(termIndex, p) {
  const a = (termIndex * termPitch + p[0]) * Math.PI / 180;
  const r = ringZero + p[1] * ringUnit;
  return { x: r * Math.sin(a), y: r * Math.cos(a) };
}
const termLabels = termNames.map((text, i) => {
  const deg = i * termPitch + termSpan / 2;
  const a = deg * Math.PI / 180;
  return {
    text, x: 285 * Math.sin(a), y: 285 * Math.cos(a),
    rotate: deg > 90 && deg < 270 ? deg - 180 : deg,
    font: '20px "Liberation Sans"', color: '#111'
  };
});
new Chart(addCanvas(circleLeft, circleTop, circleSize, circleSize), {
  type: 'scatter',
  data: { datasets: [
    { data: termDown.flatMap((pts, i) => pts.map(p => termPoint(i, p))), pointRadius: 5.5, borderWidth: 1.5,
      backgroundColor: 'rgba(75,188,219,.55)', borderColor: 'rgba(75,188,219,.6)' },
    { data: termUp.flatMap((pts, i) => pts.map(p => termPoint(i, p))), pointRadius: 5, borderWidth: 1.5,
      backgroundColor: 'rgba(238,85,60,.55)', borderColor: 'rgba(238,85,60,.55)' }
  ] },
  options: { scales: { x: hiddenAxis(-320, 320), y: hiddenAxis(-320, 320) } },
  plugins: [textPlugin(termLabels)]
});

// legend and colour bar of panel C
const barLeft = 79, barRight = 193;
new Chart(addCanvas(510, 600, 204, 90), {
  type: 'bar',
  data: { labels: ['z'], datasets: [{
    data: [zScoreRange],
    barPercentage: 1, categoryPercentage: 1,
    backgroundColor: c => {
      const g = c.chart.ctx.createLinearGradient(barLeft, 0, barRight, 0);
      g.addColorStop(0.2, '#4bbcdb');
      g.addColorStop(0.4, '#9a9ea6');
      g.addColorStop(0.62, '#d87460');
      g.addColorStop(0.82, '#ee4b2b');
      return g;
    }
  }] },
  options: {
    indexAxis: 'y',
    layout: { padding: { left: barLeft, right: 204 - barRight, top: 38 } },
    scales: {
      x: {
        type: 'linear', min: zScoreRange[0], max: zScoreRange[1],
        afterBuildTicks: s => { s.ticks = zScoreTicks.map(value => ({ value })); },
        afterFit: s => { s.height = 28; s.paddingLeft = 0; s.paddingRight = 0; },
        border: { display: false },
        grid: { display: false, drawTicks: false, tickLength: 0 },
        ticks: { autoSkip: false, maxRotation: 0, font: { size: 16 }, color: '#111', padding: 6 }
      },
      y: { display: false }
    }
  },
  plugins: [{
    id: 'barLegend',
    afterDraw(chart) {
      const ctx = chart.ctx, a = chart.chartArea;
      ctx.save();
      // white tick marks on the colour bar
      ctx.strokeStyle = '#fff';
      zScoreTicks.slice(1).forEach(v => {
        const x = chart.scales.x.getPixelForValue(v);
        ctx.beginPath();
        ctx.moveTo(x, a.top);
        ctx.lineTo(x, a.top + 5);
        ctx.moveTo(x, a.bottom - 5);
        ctx.lineTo(x, a.bottom);
        ctx.stroke();
      });
      ctx.fillStyle = '#111';
      ctx.font = '16.2px "Liberation Sans"';
      ctx.textBaseline = 'middle';
      ctx.fillText('LogFC', 15, 14.5);
      ctx.fillText('Up', 96, 14.5);
      ctx.fillText('Down', 149, 14.5);
      ctx.fillText('Z-score', 15, 63.5);
      // point keys
      [[80, 'rgba(238,85,60,.6)'], [134, 'rgba(75,188,219,.55)']].forEach(k => {
        ctx.beginPath();
        ctx.arc(k[0], 14, 5.5, 0, Math.PI * 2);
        ctx.fillStyle = k[1];
        ctx.strokeStyle = k[1];
        ctx.lineWidth = 1.5;
        ctx.fill();
        ctx.stroke();
      });
      ctx.restore();
    }
  }]
});

// ---- D ----
// every link is one thin line per evidence colour, laid side by side
const netLeft = 700, netTop = 720;
const evidenceSegments = {};
Object.keys(evidenceColors).forEach(k => { evidenceSegments[k] = []; });
function addLink(a, b, kinds) {
  const p = nodeSpots[a], q = nodeSpots[b];
  const dx = q[0] - p[0], dy = q[1] - p[1];
  const len = Math.hypot(dx, dy) || 1;
  [...kinds].forEach((k, i) => {
    const off = (i - (kinds.length - 1) / 2) * 0.85;
    const ox = -dy / len * off, oy = dx / len * off;
    evidenceSegments[k].push({ x: p[0] + ox, y: p[1] + oy }, { x: q[0] + ox, y: q[1] + oy }, { x: null, y: null });
  });
}
networkGroups.forEach(([members, kinds]) => {
  members.forEach((a, i) => members.slice(i + 1).forEach(b => addLink(a, b, kinds)));
});
networkEdges.forEach(e => addLink(e[0], e[1], e[2]));

const nodeNames = Object.keys(nodeSpots);
function glossy(c) {
  const name = nodeNames[c.dataIndex];
  if (!name) return '#ccc';
  const x = nodeSpots[name][0] - netLeft, y = nodeSpots[name][1] - netTop;
  const g = c.chart.ctx.createRadialGradient(x - 1.5, y - 3.5, 0.5, x, y, 7.5);
  g.addColorStop(0, '#ffffff');
  g.addColorStop(0.35, nodeTints[name]);
  g.addColorStop(0.88, nodeTints[name]);
  g.addColorStop(1, '#7a7a7a');
  return g;
}
const nodeLabels = nodeNames.map(name => ({
  text: name, x: nodeSpots[name][0] + 8, y: nodeSpots[name][1] - 7, align: 'left',
  font: '5.5px "Liberation Sans"', color: '#333'
}));
new Chart(addCanvas(netLeft, netTop, 714, 520), {
  type: 'scatter',
  data: { datasets: [
    { data: nodeNames.map(n => toXY(nodeSpots[n])), pointRadius: 7.5, backgroundColor: glossy, borderColor: '#777', borderWidth: 0.8, order: 0 }
  ].concat(Object.keys(evidenceColors).map((k, i) => ({
    data: evidenceSegments[k], showLine: true, pointRadius: 0, borderColor: evidenceColors[k], borderWidth: 0.9, spanGaps: false, order: i + 1
  }))) },
  options: { scales: { x: hiddenAxis(netLeft, 1414), y: hiddenAxis(netTop, 1240, true) } },
  plugins: [textPlugin(nodeLabels)]
});
</script>
</body>
</html>
